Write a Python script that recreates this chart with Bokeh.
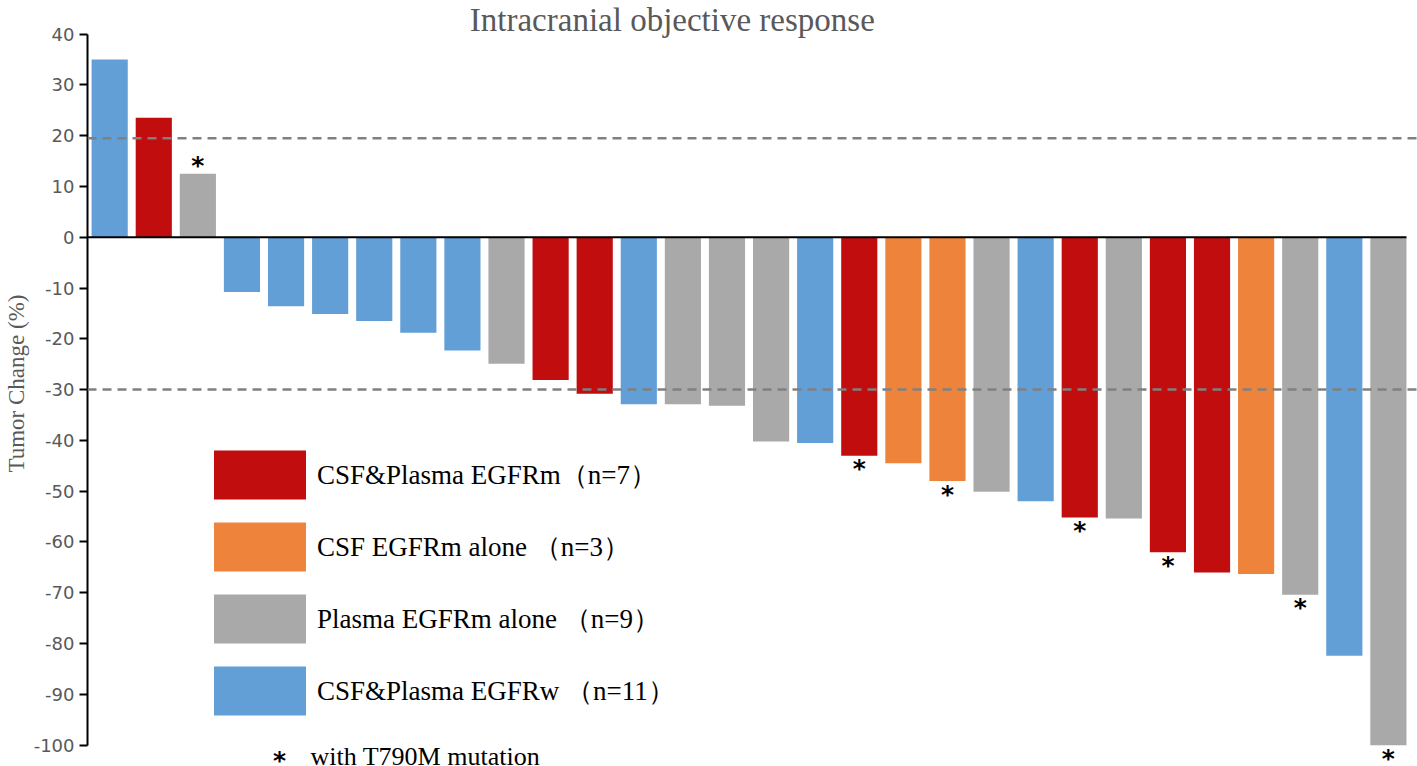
from bokeh.plotting import figure
from bokeh.models import (Range1d, FixedTicker, Span, Legend, LegendItem, ColumnDataSource,
                          Label, PrintfTickFormatter)
from bokeh.core.properties import value
from bokeh.embed import file_html
from bokeh.resources import INLINE

# ---- data ----
patients = list(range(1, 31))
change = [35.0, 23.5, 12.5, -10.8, -13.6, -15.1, -16.5, -18.8, -22.3, -24.9,
          -28.1, -30.8, -32.9, -32.9, -33.2, -40.2, -40.5, -43.0, -44.5, -48.0,
          -50.1, -52.0, -55.2, -55.4, -62.0, -66.0, -66.3, -70.4, -82.4, -100.0]
group = ["wild", "both", "plasma", "wild", "wild", "wild", "wild", "wild", "wild", "plasma",
         "both", "both", "wild", "plasma", "plasma", "plasma", "wild", "both", "csf", "csf",
         "plasma", "wild", "both", "plasma", "both", "both", "csf", "plasma", "wild", "plasma"]
t790m = [0, 0, 1, 0, 0, 0, 0, 0, 0, 0,
         0, 0, 0, 0, 0, 0, 0, 1, 0, 1,
         0, 0, 1, 0, 1, 0, 0, 1, 0, 1]

group_keys = ["both", "csf", "plasma", "wild"]
group_labels = ["CSF&Plasma EGFRm（n=7）", "CSF EGFRm alone （n=3）",
                "Plasma EGFRm alone （n=9）", "CSF&Plasma EGFRw （n=11）"]
group_colors = ["#C10D0D", "#EE843C", "#A9A9A9", "#629FD6"]

y_ticks = [40, 30, 20, 10, 0, -10, -20, -30, -40, -50, -60, -70, -80, -90, -100]
threshold_lines = [19.5, -30]

title_text = "Intracranial objective response"
y_label = "Tumor Change (%)"
note_text = "with T790M mutation"

# ---- figure ----
bar_w = 0.82
x_lo = 0.497
p = figure(width=1417, height=766,
           x_range=Range1d(x_lo, 30.66), y_range=Range1d(-104.2, 46.6),
           output_backend="svg", toolbar_location=None,
           x_axis_location=None,
           min_border_left=87, min_border_right=0, min_border_top=0, min_border_bottom=0)
p.outline_line_color = None
p.grid.visible = False
p.background_fill_color = "white"

yax = p.yaxis[0]
yax.bounds = (min(y_ticks), max(y_ticks))
yax.ticker = FixedTicker(ticks=y_ticks)
yax.formatter = PrintfTickFormatter(format="%d")
yax.axis_line_color = "black"
yax.axis_line_width = 2
yax.major_tick_line_color = "black"
yax.major_tick_line_width = 2
yax.major_tick_out = 8
yax.major_tick_in = 0
yax.minor_tick_out = 0
yax.minor_tick_in = 0
yax.major_label_standoff = 5
yax.major_label_text_font = "DejaVu Sans"
yax.major_label_text_font_size = "18px"
yax.major_label_text_color = "#595959"
yax.axis_label = y_label
yax.axis_label_text_font = "Liberation Serif"
yax.axis_label_text_font_size = "23px"
yax.axis_label_text_font_style = "normal"
yax.axis_label_text_color = "#595959"
yax.axis_label_standoff = 2

# bars, one renderer per group
items = []
for key, label, color in zip(group_keys, group_labels, group_colors):
    xs = [x for x, g in zip(patients, group) if g == key]
    ys = [v for v, g in zip(change, group) if g == key]
    src = ColumnDataSource(dict(x=xs, top=ys))
    r = p.vbar(x="x", top="top", bottom=0, width=bar_w, source=src,
               fill_color=color, line_color=None)
    items.append(LegendItem(label=label, renderers=[r]))

# zero baseline from the axis to the last bar
p.segment(x0=[x_lo], y0=[0], x1=[len(change) + bar_w / 2], y1=[0],
          line_color="black", line_width=2)

# threshold dashed lines
for t in threshold_lines:
    p.add_layout(Span(location=t, dimension="width", line_color="#808080",
                      line_width=2.5, line_dash="9 6"))

# T790M asterisks
ax = [x for x, m in zip(patients, t790m) if m]
ay = [v for v, m in zip(change, t790m) if m]
aoff = [13 if v < 0 else -8 for v in ay]
asrc = ColumnDataSource(dict(x=ax, y=ay, off=aoff, t=["*"] * len(ax)))
p.text(x="x", y="y", text="t", y_offset="off", source=asrc,
       text_font=value("DejaVu Sans"), text_font_style="bold", text_font_size="25px",
       text_align="center", text_baseline="alphabetic", text_color="black")

legend = Legend(items=items, location=(115, 45), glyph_width=115, glyph_height=61,
                spacing=11, padding=0, margin=0, label_standoff=0,
                label_text_font="Liberation Serif", label_text_font_size="27px",
                label_text_color="black", border_line_color=None,
                background_fill_alpha=0)
p.add_layout(legend)

# title and note
p.add_layout(Label(x=13.76, y=42.7, text=title_text, text_font="Liberation Serif",
                   text_font_size="33px", text_color="#595959", text_align="center",
                   text_baseline="alphabetic"))
p.add_layout(Label(x=4.85, y=-103.0, text="*", text_font="DejaVu Sans",
                   text_font_style="bold", text_font_size="25px", text_color="black",
                   text_align="center", text_baseline="alphabetic"))
p.add_layout(Label(x=5.553, y=-102.2, text=note_text, text_font="Liberation Serif",
                   text_font_size="26px", text_color="black", text_align="left",
                   text_baseline="alphabetic"))

open("out.html", "w").write(file_html(p, INLINE))
